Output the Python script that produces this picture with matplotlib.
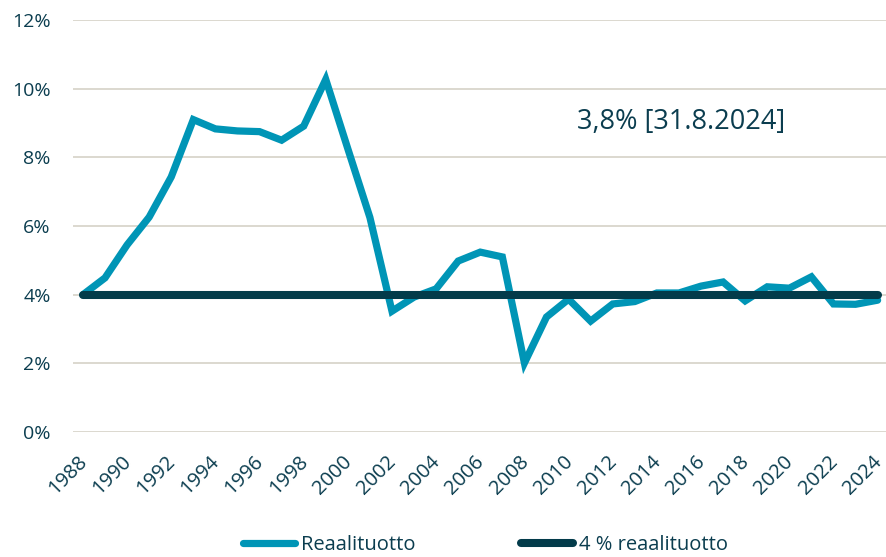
import matplotlib
matplotlib.use("Agg")
import matplotlib.pyplot as plt
import matplotlib.transforms as mtransforms
from matplotlib.ticker import FuncFormatter

years = list(range(1988, 2025))
real_return = [4.00, 4.49, 5.45, 6.26, 7.43, 9.10, 8.83, 8.77, 8.75, 8.50, 8.91, 10.27,
               8.25, 6.25, 3.52, 3.93, 4.17, 4.98, 5.24, 5.10, 2.01, 3.35, 3.87, 3.23,
               3.73, 3.80, 4.05, 4.05, 4.25, 4.37, 3.82, 4.23, 4.19, 4.52, 3.73, 3.72, 3.84]
target = [4.0] * len(years)
yticks = [0, 2, 4, 6, 8, 10, 12]
xticks = list(range(1988, 2025, 2))
annotation = "3,8% [31.8.2024]"

teal = "#0095B6"
dark = "#033B4A"
text_c = "#0B3D4F"
grid_c = "#D9D5CB"

plt.rcParams['font.family'] = ['Open Sans', 'DejaVu Sans']

fig = plt.figure(figsize=(8.86, 5.57), dpi=100)
ax = fig.add_axes([0.0824, 0.2244, 0.9176, 0.7396])

ax.plot(years, real_return, color=teal, lw=5.2, solid_joinstyle='miter', solid_capstyle='round',
        label="Reaalituotto", zorder=3)
ax.plot(years, target, color=dark, lw=5.8, solid_capstyle='round', label="4 % reaalituotto", zorder=4)

ax.set_ylim(0, 12)
ax.set_xlim(1987.55, 2024.38)
ax.set_yticks(yticks)
ax.yaxis.set_major_formatter(FuncFormatter(lambda v, p: f"{int(v)}%"))
ax.set_xticks(xticks)
ax.set_xticklabels([str(x) for x in xticks], rotation=45, ha='right', va='top',
                   rotation_mode='anchor')
ax.tick_params(axis='y', length=0, labelsize=14, colors=text_c, pad=16)
ax.tick_params(axis='x', length=0, labelsize=14.5, colors=text_c, pad=14)
shift = mtransforms.ScaledTranslation(-6 / 100, 0, fig.dpi_scale_trans)
for lab in ax.get_xticklabels():
    lab.set_transform(lab.get_transform() + shift)
ax.grid(axis='y', color=grid_c, lw=1.3)
ax.set_axisbelow(True)
for s in ax.spines.values():
    s.set_visible(False)

ax.text(2015.1, 9.03, annotation, fontsize=19.5, color=text_c, ha='center', va='center')

leg = fig.legend(loc='center', bbox_to_anchor=(0.548, 0.022), ncol=2, frameon=False,
                 fontsize=14.5, handlelength=2.6, handletextpad=0.3, columnspacing=5.2,
                 borderpad=0.0)
for t in leg.get_texts():
    t.set_color(text_c)
for h in leg.get_lines():
    h.set_solid_capstyle('round')

fig.savefig("out.png", dpi=100)
